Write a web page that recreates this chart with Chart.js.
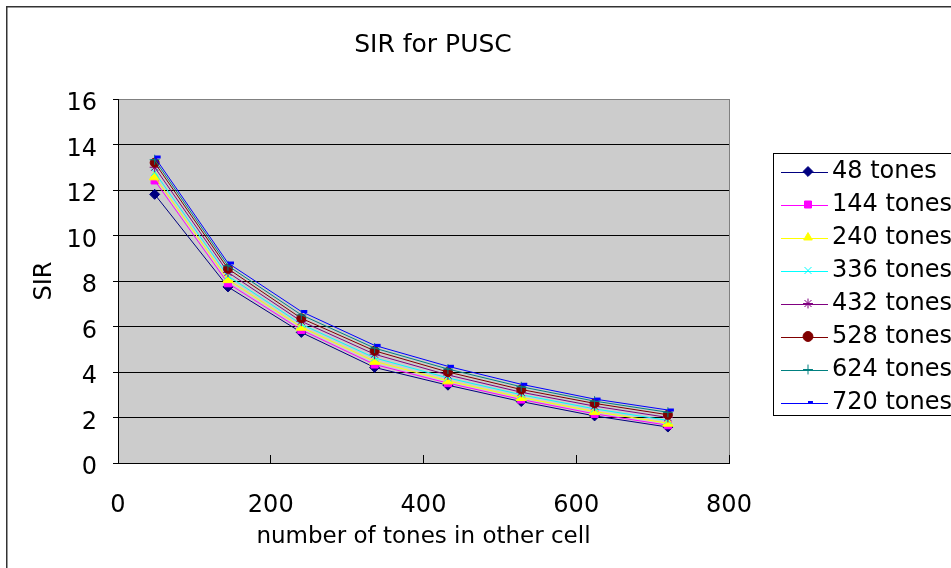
<!DOCTYPE html>
<html>
<head>
<meta charset="utf-8">
<title>SIR for PUSC</title>
<script src="https://cdn.jsdelivr.net/npm/chart.js@4/dist/chart.umd.min.js"></script>
<style>
html,body{margin:0;padding:0;background:#fff;overflow:hidden;}
#wrap{width:951px;height:568px;position:relative;}
canvas{display:block;}
</style>
</head>
<body>
<div id="wrap"><canvas id="c" width="951" height="568"></canvas></div>
<script>
// ---- data ----
const xValues = [48, 144, 240, 336, 432, 528, 624, 720];
const seriesLabels = ['48 tones', '144 tones', '240 tones', '336 tones', '432 tones', '528 tones', '624 tones', '720 tones'];
const tones48  = [11.81, 7.74, 5.74, 4.20, 3.42, 2.70, 2.07, 1.58];
const tones144 = [12.42, 7.90, 5.85, 4.33, 3.51, 2.79, 2.16, 1.66];
const tones240 = [12.58, 8.06, 5.97, 4.47, 3.61, 2.88, 2.26, 1.75];
const tones336 = [12.78, 8.22, 6.10, 4.62, 3.74, 3.00, 2.38, 1.87];
const tones432 = [13.00, 8.38, 6.23, 4.78, 3.87, 3.11, 2.50, 2.00];
const tones528 = [13.20, 8.54, 6.36, 4.93, 4.00, 3.23, 2.62, 2.12];
const tones624 = [13.33, 8.67, 6.51, 5.05, 4.13, 3.35, 2.72, 2.23];
const tones720 = [13.45, 8.79, 6.66, 5.17, 4.25, 3.46, 2.81, 2.33];
const seriesValues = [tones48, tones144, tones240, tones336, tones432, tones528, tones624, tones720];
const xTickStep = 200;
const yTickStep = 2;

// ---- styles ----
const seriesColors = ['#000080', '#FF00FF', '#FFFF00', '#00FFFF', '#800080', '#800000', '#008080', '#0000FF'];
const seriesPointStyles = ['rectRot', 'rect', 'triangle', 'crossRot', 'star', 'circle', 'cross', 'dash'];
const seriesPointRadius = [5, 5, 6, 5, 5, 4.5, 5, 6];
const seriesPointBorder = [1, 1, 1, 1, 1, 1, 1, 3];

const FONT = 'DejaVu Sans';
Chart.defaults.font.family = FONT;
Chart.defaults.color = '#000';

const datasets = seriesValues.map((vals, i) => ({
  label: seriesLabels[i],
  data: xValues.map((x, j) => ({x: x, y: vals[j]})),
  showLine: true,
  borderColor: seriesColors[i],
  backgroundColor: seriesColors[i],
  borderWidth: 1,
  pointStyle: seriesPointStyles[i],
  pointRadius: seriesPointRadius[i],
  pointBackgroundColor: seriesColors[i],
  pointBorderColor: seriesColors[i],
  pointBorderWidth: seriesPointBorder[i],
  tension: 0,
  order: seriesValues.length - 1 - i
}));

const decor = {
  id: 'decor',
  afterLayout(chart) {
    const lg = chart.legend;
    if (!lg) return;
    lg.left = 787;
    lg.right = 1000;
    lg.width = lg.right - lg.left;
    lg.top += 3;
    lg.bottom += 3;
  },
  beforeDraw(chart) {
    const ctx = chart.ctx;
    const a = chart.chartArea;
    ctx.save();
    ctx.fillStyle = '#ffffff';
    ctx.fillRect(0, 0, chart.width, chart.height);
    // outer chart frame
    ctx.strokeStyle = '#333333';
    ctx.lineWidth = 1.5;
    ctx.strokeRect(6.75, 6.75, chart.width + 50, chart.height + 50);
    ctx.lineWidth = 1;
    // plot area
    ctx.fillStyle = '#CCCCCC';
    ctx.fillRect(a.left, a.top, a.right - a.left, a.bottom - a.top);
    ctx.strokeStyle = '#808080';
    ctx.strokeRect(a.left + 0.5, a.top + 0.5, a.right - a.left, a.bottom - a.top);
    // legend frame and sample lines
    const lg = chart.legend;
    const hb = lg && lg.legendHitBoxes;
    if (hb && hb.length) {
      const top = Math.round(hb[0].top - 6.5);
      const last = hb[hb.length - 1];
      const bottom = Math.round(last.top + last.height + 0.5);
      ctx.strokeStyle = '#000000';
      ctx.strokeRect(773.5, top + 0.5, 400, bottom - top);
      lg.legendItems.forEach((it, i) => {
        const h = hb[i];
        const cx = h.left + 12;
        const cy = Math.round(h.top + 12) + 0.5;
        ctx.strokeStyle = seriesColors[it.datasetIndex];
        ctx.lineWidth = 1;
        ctx.beginPath();
        ctx.moveTo(cx - 27, cy);
        ctx.lineTo(cx + 20, cy);
        ctx.stroke();
      });
    }
    ctx.restore();
  }
};

new Chart(document.getElementById('c'), {
  type: 'scatter',
  data: {datasets: datasets},
  plugins: [decor],
  options: {
    responsive: false,
    animation: false,
    devicePixelRatio: 1,
    layout: {padding: {left: 0, right: 85, top: 0, bottom: 0}},
    plugins: {
      title: {
        display: true,
        text: 'SIR for PUSC',
        color: '#000',
        font: {family: FONT, size: 25, weight: 'normal'},
        padding: {top: 30, bottom: 39}
      },
      legend: {
        display: true,
        position: 'right',
        align: 'center',
        maxWidth: 137,
        labels: {
          usePointStyle: true,
          boxHeight: 7,
          padding: 9,
          color: '#000',
          font: {family: FONT, size: 24},
          sort: (a, b) => a.datasetIndex - b.datasetIndex
        }
      },
      tooltip: {enabled: false}
    },
    scales: {
      x: {
        type: 'linear',
        min: 0,
        max: 800,
        ticks: {stepSize: xTickStep, color: '#000', font: {family: FONT, size: 24}, padding: 36, maxRotation: 0},
        grid: {drawOnChartArea: false, drawTicks: true, tickLength: -8, color: '#000'},
        border: {color: '#000', width: 1},
        title: {display: true, text: 'number of tones in other cell', color: '#000', font: {family: FONT, size: 23}, padding: {top: 0, bottom: 17}},
        afterFit(s) { s.height = 105; }
      },
      y: {
        type: 'linear',
        min: 0,
        max: 16,
        ticks: {stepSize: yTickStep, color: '#000', font: {family: FONT, size: 24}, padding: 16, labelOffset: 5},
        grid: {
          color: (c) => (c.tick && c.tick.value === 16 ? '#808080' : '#000000'),
          tickColor: '#000',
          tickLength: 5
        },
        border: {color: '#000', width: 1},
        title: {display: true, text: 'SIR', color: '#000', font: {family: FONT, size: 24}, padding: {top: 30, bottom: 0}},
        afterFit(s) { s.width = 118; }
      }
    }
  }
});
</script>
</body>
</html>
